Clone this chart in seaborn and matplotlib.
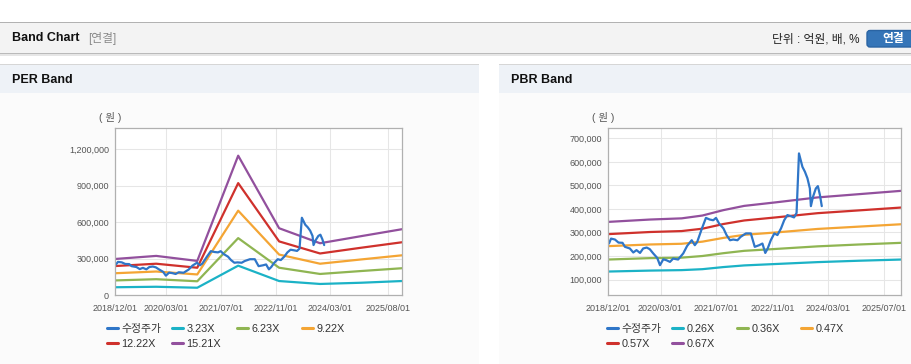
import pandas as pd
import matplotlib.pyplot as plt
import matplotlib.ticker as mticker
from matplotlib.patches import Rectangle, FancyBboxPatch
import seaborn as sns

W, H = 912, 364

# 수정주가 (same series in both charts)
price_dates = ['2018-12-07', '2018-12-25', '2019-01-28', '2019-02-28', '2019-04-04', '2019-04-25',
               '2019-06-07', '2019-07-07', '2019-08-04', '2019-09-04', '2019-10-01', '2019-11-01',
               '2019-11-28', '2019-12-28', '2020-02-01', '2020-02-25', '2020-03-25', '2020-04-22',
               '2020-05-22', '2020-06-19', '2020-08-01', '2020-09-15', '2020-10-19', '2020-11-28',
               '2020-12-25', '2021-01-15', '2021-02-25', '2021-04-01', '2021-05-04', '2021-06-04',
               '2021-06-28', '2021-07-25', '2021-09-01', '2021-09-28', '2021-10-28', '2021-11-25',
               '2022-01-01', '2022-01-28', '2022-02-28', '2022-03-16', '2022-04-28', '2022-06-01',
               '2022-07-10', '2022-08-07', '2022-09-01', '2022-09-22', '2022-10-19', '2022-11-19',
               '2022-12-16', '2023-01-16', '2023-02-13', '2023-03-13', '2023-04-13', '2023-05-10',
               '2023-06-01', '2023-06-22', '2023-07-22', '2023-08-13', '2023-09-04', '2023-09-25',
               '2023-10-04', '2023-10-22', '2023-11-16', '2023-12-04', '2023-12-22', '2024-01-07']
price_vals = [253000, 274000, 270000, 257000, 256000, 239000,
              232000, 215000, 225000, 213000, 232000, 236000,
              229000, 211000, 192000, 161000, 186000, 182000,
              175000, 189000, 185000, 211000, 243000, 267000,
              246000, 260000, 317000, 362000, 355000, 352000,
              362000, 338000, 317000, 289000, 267000, 270000,
              267000, 281000, 291000, 296000, 296000, 239000,
              246000, 253000, 213000, 232000, 267000, 296000,
              289000, 317000, 352000, 374000, 369000, 364000,
              383000, 636000, 579000, 558000, 530000, 487000,
              412000, 451000, 487000, 497000, 459000, 412000]

# PER band
per_dates = ['2018-12-01', '2019-12-01', '2020-12-01', '2021-12-01',
             '2022-12-01', '2023-12-01', '2024-12-01', '2025-12-01']
per_labels = ['3.23X', '6.23X', '9.22X', '12.22X', '15.21X']
per_323 = [66000, 70000, 62000, 243000, 117000, 93000, 103000, 117000]
per_623 = [122000, 132000, 115000, 469000, 226000, 175000, 199000, 222000]
per_922 = [181000, 195000, 171000, 694000, 334000, 259000, 294000, 328000]
per_1222 = [240000, 259000, 226000, 920000, 442000, 343000, 390000, 435000]
per_1521 = [298000, 323000, 282000, 1145000, 550000, 427000, 485000, 542000]

# PBR band
pbr_dates = ['2018-12-01', '2019-12-01', '2020-09-01', '2021-03-01', '2021-09-01',
             '2022-03-01', '2022-12-01', '2023-12-01', '2024-12-01', '2025-12-01']
pbr_labels = ['0.26X', '0.36X', '0.47X', '0.57X', '0.67X']
pbr_026 = [134000, 138000, 140000, 144000, 153000, 160000, 166000, 174000, 180000, 185000]
pbr_036 = [185000, 191000, 193000, 200000, 212000, 222000, 230000, 241000, 249000, 256000]
pbr_047 = [242000, 249000, 252000, 261000, 277000, 290000, 300000, 315000, 325000, 335000]
pbr_057 = [293000, 302000, 306000, 316000, 336000, 351000, 364000, 382000, 394000, 406000]
pbr_067 = [345000, 355000, 360000, 372000, 395000, 413000, 428000, 449000, 463000, 477000]

price_color = '#2f76c8'
band_colors = ['#1bb2c6', '#8fb552', '#f4a534', '#cf312c', '#92509d']

sns.set_style('white')
plt.rcParams['font.family'] = ['Liberation Sans', 'Noto Sans CJK KR']

fig = plt.figure(figsize=(W / 100, H / 100), dpi=100)
fig.patch.set_facecolor('white')


def box(x0, y0, x1, y1, color):
    fig.patches.append(Rectangle((x0 / W, 1 - y1 / H), (x1 - x0) / W, (y1 - y0) / H,
                                 transform=fig.transFigure, facecolor=color,
                                 edgecolor='none', zorder=-2))


# top header bar
box(0, 22, W, 23, '#b2b2b2')
box(0, 23, W, 53, '#f3f3f3')
box(0, 53, W, 54, '#bababa')
box(0, 54, W, 56, '#e6e6e6')
fig.text(12 / W, 1 - 38 / H, 'Band Chart', fontsize=9, fontweight='bold', va='center', color='#111111')
fig.text(88 / W, 1 - 38.5 / H, '[연결]', fontsize=8.5, va='center', color='#8a8a8a')
fig.text(860 / W, 1 - 39 / H, '단위 : 억원, 배, %', fontsize=8.5, va='center', ha='right', color='#222222')
fig.patches.append(FancyBboxPatch((8.67, (H - 47) / 100), 0.6, 0.165,
                                  boxstyle='round,pad=0,rounding_size=0.03',
                                  transform=fig.dpi_scale_trans, facecolor='#3575b8',
                                  edgecolor='#2a64a3', zorder=-1))
fig.text(893 / W, 1 - 39 / H, '연결', fontsize=8.5, fontweight='bold', va='center', ha='center', color='white')

# panels
for x0, x1, title in [(0, 479, 'PER Band'), (499, W, 'PBR Band')]:
    box(x0, 64, x1, 65, '#d6d6d6')
    box(x0, 65, x1, 93, '#eef2f7')
    box(x0, 93, x1, H, '#fbfbfb')
    fig.text((x0 + 12) / W, 1 - 80 / H, title, fontsize=9, fontweight='bold', va='center', color='#111111')


def band_frame(dates, labels, values):
    rows = []
    for lab, vals in zip(labels, values):
        for d, v in zip(dates, vals):
            rows.append({'date': pd.Timestamp(d), 'value': v, 'series': lab})
    return pd.DataFrame(rows)


price_df = pd.DataFrame({'date': pd.to_datetime(price_dates), 'value': price_vals})


def draw(rect, dates, labels, values, yticks, ylim, xtick_dates, leg_x):
    ax = fig.add_axes(rect)
    ax.set_facecolor('white')
    df = band_frame(dates, labels, values)
    sns.lineplot(data=df, x='date', y='value', hue='series', hue_order=labels,
                 palette=band_colors, estimator=None, linewidth=1.6, legend=False, ax=ax)
    sns.lineplot(data=price_df, x='date', y='value', color=price_color,
                 estimator=None, linewidth=1.6, legend=False, ax=ax)
    ax.set_xlim(pd.Timestamp('2018-12-01'), pd.Timestamp('2025-12-01'))
    ax.set_ylim(*ylim)
    ax.set_yticks(yticks)
    ax.yaxis.set_major_formatter(mticker.StrMethodFormatter('{x:,.0f}'))
    xt = pd.to_datetime(xtick_dates)
    ax.set_xticks(xt)
    ax.set_xticklabels([d.strftime('%Y/%m/%d') for d in xt])
    ax.set_xlabel('')
    ax.set_ylabel('')
    ax.grid(True, color='#e6e6e6', linewidth=0.75)
    ax.set_axisbelow(True)
    for s in ax.spines.values():
        s.set_color('#b0b0b0')
        s.set_linewidth(0.9)
    ax.tick_params(axis='both', length=2.5, width=0.7, color='#888888',
                   labelsize=6.5, labelcolor='#555555')
    ax.tick_params(axis='x', pad=3.5)
    ax.tick_params(axis='y', pad=2)
    ax.text(rect[0] - 5 / W, 1 - 118 / H, '( 원 )', transform=fig.transFigure,
            fontsize=7.5, ha='center', va='center', color='#555555')

    lines = ax.get_lines()
    handles = [lines[-1]] + list(lines[:len(labels)])
    names = ['수정주가'] + labels
    columns = [[0, 4], [1, 5], [2], [3]]
    for cx, col in zip(leg_x, columns):
        leg = ax.legend([handles[i] for i in col], [names[i] for i in col],
                        loc='upper left', bbox_to_anchor=(cx / W, 1 - 324 / H),
                        bbox_transform=fig.transFigure, frameon=False, fontsize=7.8,
                        handlelength=1.05, handletextpad=0.3, borderpad=0,
                        borderaxespad=0, labelspacing=0.42, labelcolor='#333333')
        for lh in leg.get_lines():
            lh.set_linewidth(2.2)
        ax.add_artist(leg)
        ax.legend_ = None
    return ax


top, bot = 128, 295.3
draw([115.3 / W, 1 - bot / H, 286.7 / W, (bot - top) / H],
     per_dates, per_labels, [per_323, per_623, per_922, per_1222, per_1521],
     [0, 300000, 600000, 900000, 1200000], (0, 1372000),
     ['2018-12-01', '2020-03-01', '2021-07-01', '2022-11-01', '2024-03-01', '2025-08-01'],
     [107, 172, 237, 302])

draw([608.3 / W, 1 - bot / H, 293 / W, (bot - top) / H],
     pbr_dates, pbr_labels, [pbr_026, pbr_036, pbr_047, pbr_057, pbr_067],
     [100000, 200000, 300000, 400000, 500000, 600000, 700000], (33000, 744000),
     ['2018-12-01', '2020-03-01', '2021-07-01', '2022-11-01', '2024-03-01', '2025-07-01'],
     [607, 672, 737, 801])

fig.savefig('out.png', dpi=100, facecolor=fig.get_facecolor())
